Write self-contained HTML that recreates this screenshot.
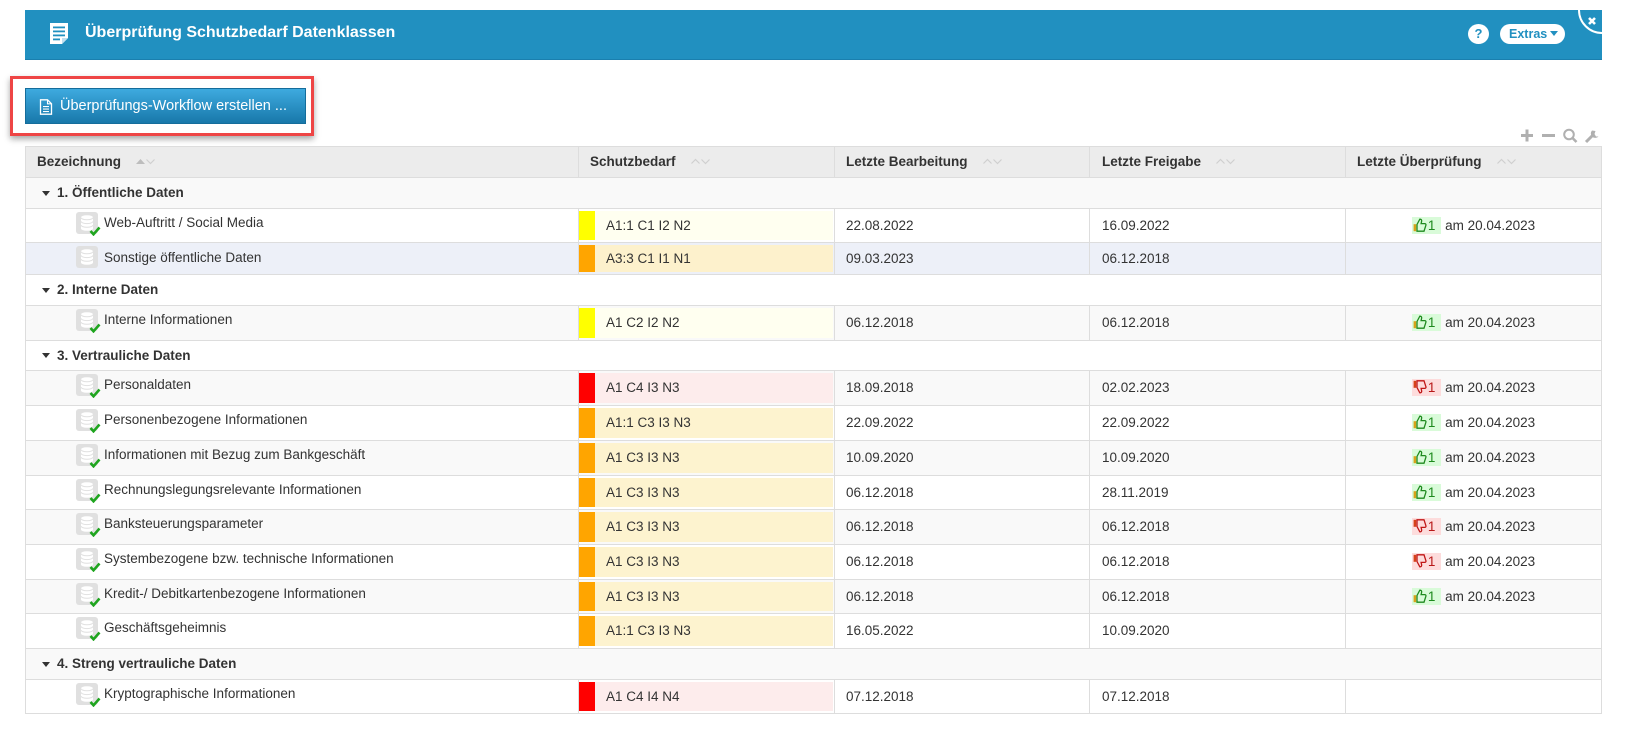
<!DOCTYPE html>
<html><head><meta charset="utf-8">
<style>
*{box-sizing:border-box}
html,body{margin:0;padding:0;background:#fff}
body{width:1642px;height:733px;overflow:hidden;position:relative;font-family:"Liberation Sans",Arial,sans-serif;color:#333;font-size:13.5px}
.abs{position:absolute}
.hdr{left:25px;top:10px;width:1577px;height:50px;background:#2190c0;border-bottom:1px solid #1a7fae;overflow:hidden}
.title{left:60px;top:14px;color:#fff;font-weight:bold;font-size:16px;line-height:18px;white-space:nowrap}
.btnbox{left:10px;top:76px;width:304px;height:60px;border:3px solid #ee4545;box-shadow:0 3px 6px rgba(0,0,0,.35)}
.btn{left:25px;top:88px;width:281px;height:36px;background:linear-gradient(#3eaadf,#1878aa);border:1px solid #156d9b;color:#fff;font-size:14.5px;line-height:34px;white-space:nowrap}
.row{position:absolute;left:25px;width:1577px;border-top:1px solid #ddd}
.row>*{position:absolute}
.sep{top:0;bottom:0;width:1px;background:#ddd}
.hcell{top:0;font-weight:bold;white-space:nowrap;line-height:30px;font-size:13.5px}
.hcell svg{margin-left:15px;vertical-align:middle;position:relative;top:-1px}
.gtxt{left:32px;top:0;font-weight:bold;white-space:nowrap}
.gtri{left:17px;width:0;height:0;border-left:4px solid transparent;border-right:4px solid transparent;border-top:5px solid #333}
.name{left:79px;top:5px;line-height:18px;white-space:nowrap}
.db{left:51px;top:3px}
.ck{left:64px;top:17px}
.blk{left:554px;top:2px;width:16px}
.lbg{left:570px;top:2px;width:238px;padding-left:11px;white-space:nowrap}
.d1{left:821px;top:0;white-space:nowrap}
.d2{left:1077px;top:0;white-space:nowrap}
.rv{left:1321px;width:255px;top:0;text-align:center;white-space:nowrap}
.bd{display:inline-block;height:17px;line-height:17px;vertical-align:middle;padding:0 6px 0 1px;position:relative;top:-1px}
.bd svg{vertical-align:middle;position:relative;top:-1px;margin-right:1px}
.up{background:#d9fbd9;color:#1d8a1d}
.dn{background:#fddcdc;color:#b81818}
.frame{left:25px;top:146px;width:1577px;height:568px;border:1px solid #ddd;pointer-events:none}
</style></head><body>

<!-- Header bar -->
<div class="abs hdr">
  <svg class="abs" style="left:25px;top:13px" width="18" height="21" viewBox="0 0 18 21">
    <path d="M0 0H18V15L12 21H0Z" fill="#fff"/>
    <rect x="3" y="3.5" width="12" height="1.8" fill="#2190c0"/>
    <rect x="3" y="7.5" width="12" height="1.8" fill="#2190c0"/>
    <rect x="3" y="11.5" width="12" height="1.8" fill="#2190c0"/>
    <rect x="3" y="15.5" width="7" height="1.8" fill="#2190c0"/>
    <path d="M12 21V15H18Z" fill="#bfe0f0"/>
  </svg>
  <div class="abs title">Überprüfung Schutzbedarf Datenklassen</div>
  <div class="abs" style="left:1443px;top:14px;width:21px;height:20px;border-radius:50%;background:#fff;color:#2190c0;font-weight:bold;font-size:13px;line-height:20px;text-align:center">?</div>
  <div class="abs" style="left:1475px;top:14px;width:65px;height:20px;border-radius:10px;background:#fff;color:#2190c0;font-weight:bold;font-size:12.5px;line-height:20px;padding-left:9px;white-space:nowrap">Extras<span style="display:inline-block;margin-left:3px;width:0;height:0;border-left:4px solid transparent;border-right:4px solid transparent;border-top:5px solid #2190c0;vertical-align:middle;position:relative;top:-1px"></span></div>
  <svg class="abs" style="left:1550px;top:0" width="27" height="27" viewBox="0 0 27 27">
    <path d="M4 0A23 23 0 0 0 27 23" fill="none" stroke="#fff" stroke-width="2"/>
    <path d="M14 8L20 14M20 8L14 14" stroke="#fff" stroke-width="2.6"/>
  </svg>
</div>

<!-- Button with red highlight -->
<div class="abs btnbox"></div>
<div class="abs btn">
  <svg class="abs" style="left:13px;top:10px" width="14" height="16" viewBox="0 0 14 16">
    <path d="M1.5 .8H8.5L12.5 4.8V15.2H1.5Z" fill="none" stroke="#fff" stroke-width="1.3"/>
    <path d="M8.5 .8V4.8H12.5" fill="none" stroke="#fff" stroke-width="1.1"/>
    <rect x="4" y="7" width="6" height="1.1" fill="#fff"/>
    <rect x="4" y="9.5" width="6" height="1.1" fill="#fff"/>
    <rect x="4" y="12" width="6" height="1.1" fill="#fff"/>
  </svg>
  <span class="abs" style="left:34px;top:0">Überprüfungs-Workflow erstellen ...</span>
</div>

<!-- Toolbar icons -->
<svg class="abs" style="left:1520px;top:128px" width="82" height="16" viewBox="0 0 82 16">
  <path d="M1 7.5H13M7 1.5V13.5" stroke="#b0b0b0" stroke-width="3"/>
  <path d="M22 7.5H35" stroke="#b0b0b0" stroke-width="3"/>
  <circle cx="49" cy="6.5" r="4.8" fill="none" stroke="#b0b0b0" stroke-width="2"/>
  <path d="M52.5 10L56.5 14" stroke="#b0b0b0" stroke-width="2.6"/>
  <path d="M66 14L73 7" stroke="#b0b0b0" stroke-width="3"/>
  <path d="M72 2.5A4 4 0 1 0 78.5 8.5L76 8.5L74.5 6L75.5 3Z" fill="#b0b0b0"/>
</svg>

<!-- Table header -->
<div class="row" style="top:146px;height:31px;background:#ececec">
  <div class="sep" style="left:553px"></div><div class="sep" style="left:809px"></div><div class="sep" style="left:1064px"></div><div class="sep" style="left:1320px"></div>
  <div class="hcell" style="left:12px">Bezeichnung<svg width="19" height="8" viewBox="0 0 19 8"><polygon points="0,7 4.5,2 9,7" fill="#bdbdbd"/><polyline points="10.5,2.5 14.5,6.5 18.5,2.5" fill="none" stroke="#cfcfcf" stroke-width="1.2"/></svg></div>
  <div class="hcell" style="left:565px">Schutzbedarf<svg width="19" height="8" viewBox="0 0 19 8"><polyline points="0.5,6.5 4.5,2.5 8.5,6.5" fill="none" stroke="#cfcfcf" stroke-width="1.2"/><polyline points="10.5,2.5 14.5,6.5 18.5,2.5" fill="none" stroke="#cfcfcf" stroke-width="1.2"/></svg></div>
  <div class="hcell" style="left:821px">Letzte Bearbeitung<svg width="19" height="8" viewBox="0 0 19 8"><polyline points="0.5,6.5 4.5,2.5 8.5,6.5" fill="none" stroke="#cfcfcf" stroke-width="1.2"/><polyline points="10.5,2.5 14.5,6.5 18.5,2.5" fill="none" stroke="#cfcfcf" stroke-width="1.2"/></svg></div>
  <div class="hcell" style="left:1077px">Letzte Freigabe<svg width="19" height="8" viewBox="0 0 19 8"><polyline points="0.5,6.5 4.5,2.5 8.5,6.5" fill="none" stroke="#cfcfcf" stroke-width="1.2"/><polyline points="10.5,2.5 14.5,6.5 18.5,2.5" fill="none" stroke="#cfcfcf" stroke-width="1.2"/></svg></div>
  <div class="hcell" style="left:1332px">Letzte Überprüfung<svg width="19" height="8" viewBox="0 0 19 8"><polyline points="0.5,6.5 4.5,2.5 8.5,6.5" fill="none" stroke="#cfcfcf" stroke-width="1.2"/><polyline points="10.5,2.5 14.5,6.5 18.5,2.5" fill="none" stroke="#cfcfcf" stroke-width="1.2"/></svg></div>
</div>

<svg width="0" height="0" style="position:absolute">
  <defs>
    <g id="db">
      <rect width="22" height="22" rx="3" fill="#e0e0e0"/>
      <path d="M5 5.5V16.5A6 2.3 0 0 0 17 16.5V5.5Z" fill="#fff"/>
      <ellipse cx="11" cy="5.5" rx="6" ry="2.3" fill="#fff"/>
      <path d="M5 5.5A6 2.3 0 0 0 17 5.5" fill="none" stroke="#e0e0e0" stroke-width="1"/>
      <path d="M5 9.3A6 2.3 0 0 0 17 9.3" fill="none" stroke="#e0e0e0" stroke-width="1"/>
      <path d="M5 13A6 2.3 0 0 0 17 13" fill="none" stroke="#e0e0e0" stroke-width="1"/>
    </g>
    <g id="ck"><polyline points="1.5,5 4.5,8.3 10.5,1.5" fill="none" stroke="#1fa51f" stroke-width="2.6"/></g>
    <g id="tu">
      <rect x="0.6" y="6.2" width="2.6" height="7" fill="#d6a21a"/>
      <path d="M4 6.5L6.8 1.2C8.3 1.1 8.9 2.1 8.6 3.4L8.1 5.6H11.8C12.9 5.6 13.2 6.6 12.8 7.6L11 13.2H4Z" fill="none" stroke="#1f8a1f" stroke-width="1.3"/>
    </g>
    <g id="td">
      <rect x="0.6" y="0.8" width="2.6" height="7" fill="#d6421a"/>
      <path d="M4 7.5L6.8 12.8C8.3 12.9 8.9 11.9 8.6 10.6L8.1 8.4H11.8C12.9 8.4 13.2 7.4 12.8 6.4L11 0.8H4Z" fill="none" stroke="#c01616" stroke-width="1.3"/>
    </g>
  </defs>
</svg>

<!-- Group 1 -->
<div class="row" style="top:177px;height:31px;background:#f9f9f9"><div class="gtri" style="top:13px"></div><div class="gtxt" style="line-height:30px">1. Öffentliche Daten</div></div>

<div class="row" style="top:208px;height:34px;background:#fff">
  <div class="sep" style="left:553px"></div><div class="sep" style="left:809px"></div><div class="sep" style="left:1064px"></div><div class="sep" style="left:1320px"></div>
  <svg class="db" width="22" height="22"><use href="#db"/></svg><svg class="ck" width="12" height="10"><use href="#ck"/></svg>
  <div class="name">Web-Auftritt / Social Media</div>
  <div class="blk" style="height:29px;background:#ffff00"></div><div class="lbg" style="height:29px;line-height:29px;background:#fffff0">A1:1 C1 I2 N2</div>
  <div class="d1" style="line-height:33px">22.08.2022</div><div class="d2" style="line-height:33px">16.09.2022</div>
  <div class="rv" style="line-height:33px"><span class="bd up"><svg width="14" height="14"><use href="#tu"/></svg>1</span> am 20.04.2023</div>
</div>

<div class="row" style="top:242px;height:32px;background:#edf0f8">
  <div class="sep" style="left:553px"></div><div class="sep" style="left:809px"></div><div class="sep" style="left:1064px"></div><div class="sep" style="left:1320px"></div>
  <svg class="db" width="22" height="22"><use href="#db"/></svg>
  <div class="name" style="top:6px">Sonstige öffentliche Daten</div>
  <div class="blk" style="height:27px;background:#ffa500"></div><div class="lbg" style="height:27px;line-height:27px;background:#fdf1cc">A3:3 C1 I1 N1</div>
  <div class="d1" style="line-height:31px">09.03.2023</div><div class="d2" style="line-height:31px">06.12.2018</div>
</div>

<!-- Group 2 -->
<div class="row" style="top:274px;height:31px;background:#fff"><div class="gtri" style="top:13px"></div><div class="gtxt" style="line-height:30px">2. Interne Daten</div></div>

<div class="row" style="top:305px;height:35px;background:#f9f9f9">
  <div class="sep" style="left:553px"></div><div class="sep" style="left:809px"></div><div class="sep" style="left:1064px"></div><div class="sep" style="left:1320px"></div>
  <svg class="db" width="22" height="22"><use href="#db"/></svg><svg class="ck" width="12" height="10"><use href="#ck"/></svg>
  <div class="name">Interne Informationen</div>
  <div class="blk" style="height:30px;background:#ffff00"></div><div class="lbg" style="height:30px;line-height:30px;background:#fffff0">A1 C2 I2 N2</div>
  <div class="d1" style="line-height:34px">06.12.2018</div><div class="d2" style="line-height:34px">06.12.2018</div>
  <div class="rv" style="line-height:34px"><span class="bd up"><svg width="14" height="14"><use href="#tu"/></svg>1</span> am 20.04.2023</div>
</div>

<!-- Group 3 -->
<div class="row" style="top:340px;height:30px;background:#fff"><div class="gtri" style="top:12px"></div><div class="gtxt" style="line-height:29px">3. Vertrauliche Daten</div></div>

<div class="row" style="top:370px;height:35px;background:#f9f9f9">
  <div class="sep" style="left:553px"></div><div class="sep" style="left:809px"></div><div class="sep" style="left:1064px"></div><div class="sep" style="left:1320px"></div>
  <svg class="db" width="22" height="22"><use href="#db"/></svg><svg class="ck" width="12" height="10"><use href="#ck"/></svg>
  <div class="name">Personaldaten</div>
  <div class="blk" style="height:30px;background:#ff0000"></div><div class="lbg" style="height:30px;line-height:30px;background:#fdecec">A1 C4 I3 N3</div>
  <div class="d1" style="line-height:34px">18.09.2018</div><div class="d2" style="line-height:34px">02.02.2023</div>
  <div class="rv" style="line-height:34px"><span class="bd dn"><svg width="14" height="14"><use href="#td"/></svg>1</span> am 20.04.2023</div>
</div>

<div class="row" style="top:405px;height:35px;background:#fff">
  <div class="sep" style="left:553px"></div><div class="sep" style="left:809px"></div><div class="sep" style="left:1064px"></div><div class="sep" style="left:1320px"></div>
  <svg class="db" width="22" height="22"><use href="#db"/></svg><svg class="ck" width="12" height="10"><use href="#ck"/></svg>
  <div class="name">Personenbezogene Informationen</div>
  <div class="blk" style="height:30px;background:#ffa500"></div><div class="lbg" style="height:30px;line-height:30px;background:#fdf3cf">A1:1 C3 I3 N3</div>
  <div class="d1" style="line-height:34px">22.09.2022</div><div class="d2" style="line-height:34px">22.09.2022</div>
  <div class="rv" style="line-height:34px"><span class="bd up"><svg width="14" height="14"><use href="#tu"/></svg>1</span> am 20.04.2023</div>
</div>

<div class="row" style="top:440px;height:35px;background:#f9f9f9">
  <div class="sep" style="left:553px"></div><div class="sep" style="left:809px"></div><div class="sep" style="left:1064px"></div><div class="sep" style="left:1320px"></div>
  <svg class="db" width="22" height="22"><use href="#db"/></svg><svg class="ck" width="12" height="10"><use href="#ck"/></svg>
  <div class="name">Informationen mit Bezug zum Bankgeschäft</div>
  <div class="blk" style="height:30px;background:#ffa500"></div><div class="lbg" style="height:30px;line-height:30px;background:#fdf3cf">A1 C3 I3 N3</div>
  <div class="d1" style="line-height:34px">10.09.2020</div><div class="d2" style="line-height:34px">10.09.2020</div>
  <div class="rv" style="line-height:34px"><span class="bd up"><svg width="14" height="14"><use href="#tu"/></svg>1</span> am 20.04.2023</div>
</div>

<div class="row" style="top:475px;height:34px;background:#fff">
  <div class="sep" style="left:553px"></div><div class="sep" style="left:809px"></div><div class="sep" style="left:1064px"></div><div class="sep" style="left:1320px"></div>
  <svg class="db" width="22" height="22"><use href="#db"/></svg><svg class="ck" width="12" height="10"><use href="#ck"/></svg>
  <div class="name">Rechnungslegungsrelevante Informationen</div>
  <div class="blk" style="height:29px;background:#ffa500"></div><div class="lbg" style="height:29px;line-height:29px;background:#fdf3cf">A1 C3 I3 N3</div>
  <div class="d1" style="line-height:33px">06.12.2018</div><div class="d2" style="line-height:33px">28.11.2019</div>
  <div class="rv" style="line-height:33px"><span class="bd up"><svg width="14" height="14"><use href="#tu"/></svg>1</span> am 20.04.2023</div>
</div>

<div class="row" style="top:509px;height:35px;background:#f9f9f9">
  <div class="sep" style="left:553px"></div><div class="sep" style="left:809px"></div><div class="sep" style="left:1064px"></div><div class="sep" style="left:1320px"></div>
  <svg class="db" width="22" height="22"><use href="#db"/></svg><svg class="ck" width="12" height="10"><use href="#ck"/></svg>
  <div class="name">Banksteuerungsparameter</div>
  <div class="blk" style="height:30px;background:#ffa500"></div><div class="lbg" style="height:30px;line-height:30px;background:#fdf3cf">A1 C3 I3 N3</div>
  <div class="d1" style="line-height:34px">06.12.2018</div><div class="d2" style="line-height:34px">06.12.2018</div>
  <div class="rv" style="line-height:34px"><span class="bd dn"><svg width="14" height="14"><use href="#td"/></svg>1</span> am 20.04.2023</div>
</div>

<div class="row" style="top:544px;height:35px;background:#fff">
  <div class="sep" style="left:553px"></div><div class="sep" style="left:809px"></div><div class="sep" style="left:1064px"></div><div class="sep" style="left:1320px"></div>
  <svg class="db" width="22" height="22"><use href="#db"/></svg><svg class="ck" width="12" height="10"><use href="#ck"/></svg>
  <div class="name">Systembezogene bzw. technische Informationen</div>
  <div class="blk" style="height:30px;background:#ffa500"></div><div class="lbg" style="height:30px;line-height:30px;background:#fdf3cf">A1 C3 I3 N3</div>
  <div class="d1" style="line-height:34px">06.12.2018</div><div class="d2" style="line-height:34px">06.12.2018</div>
  <div class="rv" style="line-height:34px"><span class="bd dn"><svg width="14" height="14"><use href="#td"/></svg>1</span> am 20.04.2023</div>
</div>

<div class="row" style="top:579px;height:34px;background:#f9f9f9">
  <div class="sep" style="left:553px"></div><div class="sep" style="left:809px"></div><div class="sep" style="left:1064px"></div><div class="sep" style="left:1320px"></div>
  <svg class="db" width="22" height="22"><use href="#db"/></svg><svg class="ck" width="12" height="10"><use href="#ck"/></svg>
  <div class="name">Kredit-/ Debitkartenbezogene Informationen</div>
  <div class="blk" style="height:29px;background:#ffa500"></div><div class="lbg" style="height:29px;line-height:29px;background:#fdf3cf">A1 C3 I3 N3</div>
  <div class="d1" style="line-height:33px">06.12.2018</div><div class="d2" style="line-height:33px">06.12.2018</div>
  <div class="rv" style="line-height:33px"><span class="bd up"><svg width="14" height="14"><use href="#tu"/></svg>1</span> am 20.04.2023</div>
</div>

<div class="row" style="top:613px;height:35px;background:#fff">
  <div class="sep" style="left:553px"></div><div class="sep" style="left:809px"></div><div class="sep" style="left:1064px"></div><div class="sep" style="left:1320px"></div>
  <svg class="db" width="22" height="22"><use href="#db"/></svg><svg class="ck" width="12" height="10"><use href="#ck"/></svg>
  <div class="name">Geschäftsgeheimnis</div>
  <div class="blk" style="height:30px;background:#ffa500"></div><div class="lbg" style="height:30px;line-height:30px;background:#fdf3cf">A1:1 C3 I3 N3</div>
  <div class="d1" style="line-height:34px">16.05.2022</div><div class="d2" style="line-height:34px">10.09.2020</div>
</div>

<!-- Group 4 -->
<div class="row" style="top:648px;height:31px;background:#f9f9f9"><div class="gtri" style="top:13px"></div><div class="gtxt" style="line-height:30px">4. Streng vertrauliche Daten</div></div>

<div class="row" style="top:679px;height:34px;background:#fff">
  <div class="sep" style="left:553px"></div><div class="sep" style="left:809px"></div><div class="sep" style="left:1064px"></div><div class="sep" style="left:1320px"></div>
  <svg class="db" width="22" height="22"><use href="#db"/></svg><svg class="ck" width="12" height="10"><use href="#ck"/></svg>
  <div class="name">Kryptographische Informationen</div>
  <div class="blk" style="height:29px;background:#ff0000"></div><div class="lbg" style="height:29px;line-height:29px;background:#fdecec">A1 C4 I4 N4</div>
  <div class="d1" style="line-height:33px">07.12.2018</div><div class="d2" style="line-height:33px">07.12.2018</div>
</div>

<div class="abs frame"></div>

</body></html>
